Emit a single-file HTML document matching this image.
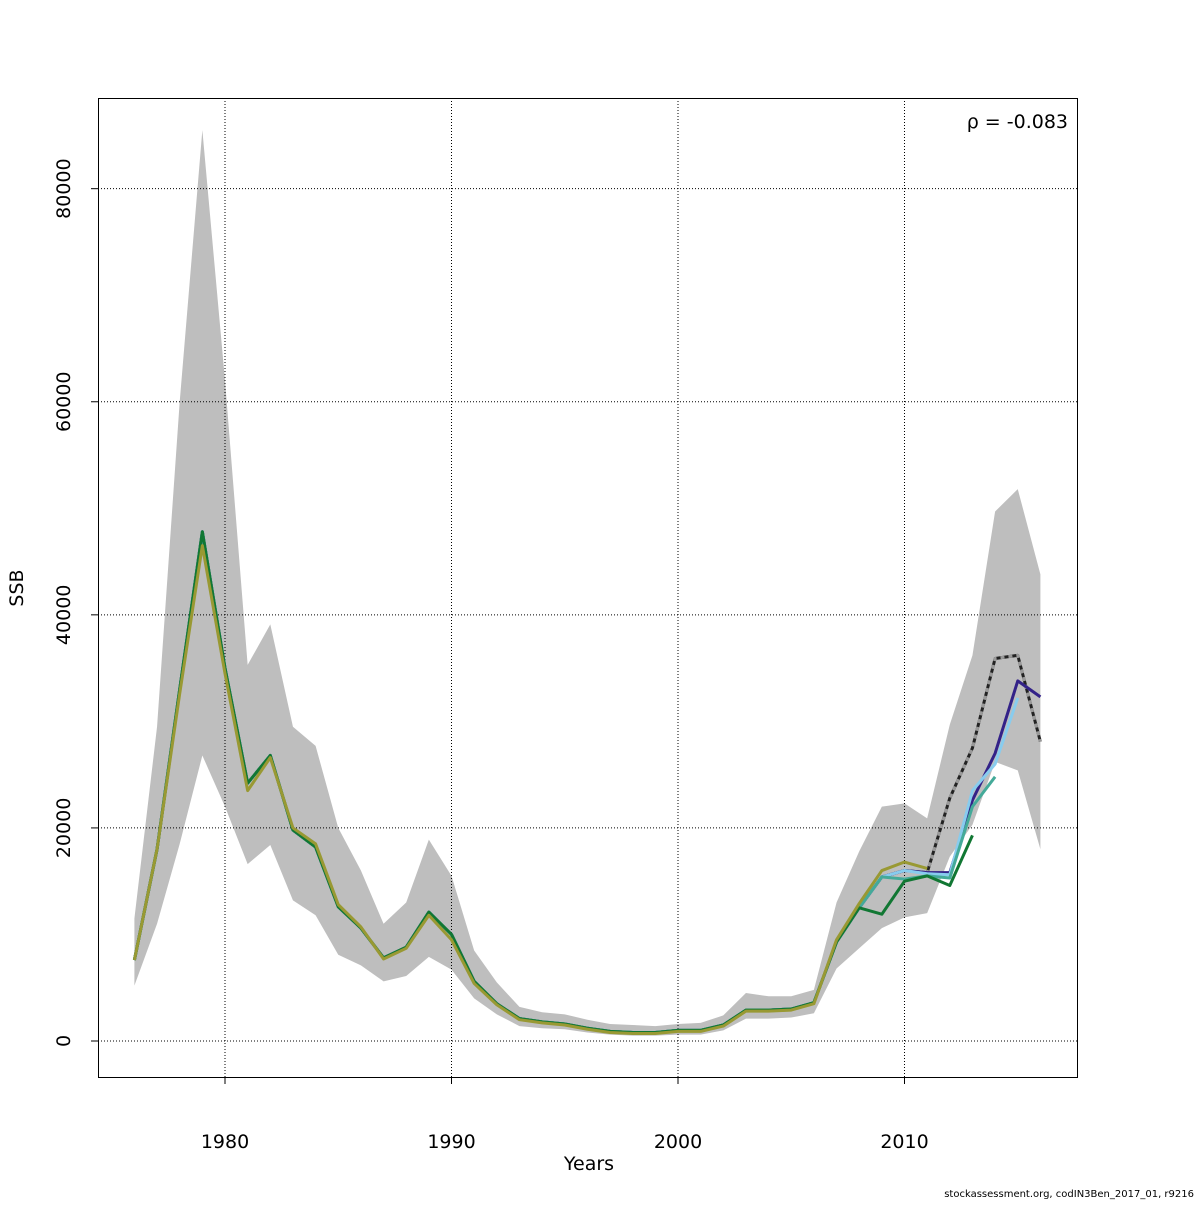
<!DOCTYPE html>
<html><head><meta charset="utf-8"><style>
body{margin:0;background:#fff}
svg text{font-family:"DejaVu Sans","Liberation Sans",sans-serif}
</style></head><body>
<svg id="chart" width="1200" height="1200" xmlns="http://www.w3.org/2000/svg">
<rect width="1200" height="1200" fill="#fff"/>
<g id="band"></g>
<g id="grid"></g>
<g id="lines"></g>
<rect x="98.5" y="98.5" width="979" height="979" fill="none" stroke="#000" stroke-width="1"/>
<g id="axes"></g>
<text x="1068" y="128" font-size="19" text-anchor="end">ρ = -0.083</text>
<text x="589" y="1170" font-size="19" text-anchor="middle">Years</text>
<text x="23" y="588" font-size="19" text-anchor="middle" transform="rotate(-90 23 588)">SSB</text>
<text x="1194" y="1197" font-size="10" text-anchor="end">stockassessment.org, codIN3Ben_2017_01, r9216</text>
</svg>
<script>
const years=[1976,1977,1978,1979,1980,1981,1982,1983,1984,1985,1986,1987,1988,1989,1990,1991,1992,1993,1994,1995,1996,1997,1998,1999,2000,2001,2002,2003,2004,2005,2006,2007,2008,2009,2010,2011,2012,2013,2014,2015,2016];
const ssb=[7600,18000,33000,47800,35000,24200,26800,19800,18200,12600,10600,7800,8800,12100,10000,5600,3500,2100,1800,1600,1200,900,800,800,1000,1000,1500,2900,2900,3000,3600,9300,12500,15400,16000,15800,22800,27500,35900,36200,28100];
const upper=[11500,29500,60000,85500,62000,35300,39100,29500,27700,20000,16000,11000,13000,18900,15500,8500,5500,3200,2700,2500,2000,1600,1500,1400,1600,1700,2400,4500,4200,4200,4800,13000,17800,22000,22300,20900,29700,36200,49700,51800,43800];
const lower=[5200,11000,18500,26800,22000,16600,18400,13200,11800,8100,7100,5600,6100,7900,6700,4000,2500,1400,1200,1100,800,600,500,500,600,600,1000,2100,2100,2200,2600,6800,8700,10600,11600,12000,17300,20300,26200,25400,18000];
const peel1=ssb.slice(0,36).concat([15800,22600,27000,33800,32300]);
const peel2=ssb.slice(0,35).concat([15700,15600,23500,26000,32200]);
const peel3=ssb.slice(0,34).concat([15200,15500,15300,22000,24800]);
const peel4=ssb.slice(0,33).concat([11900,15000,15500,14600,19300]);
const peel5=[7600,18000,32600,46500,34500,23500,26600,20000,18500,12800,10700,7700,8700,11800,9500,5400,3400,2000,1700,1500,1100,800,700,700,900,900,1400,2800,2800,2900,3500,9500,12900,16000,16800,16200];
const xTicks=[1980,1990,2000,2010];
const yTicks=[0,20000,40000,60000,80000];
const yTickLabels=["0","20000","40000","60000","80000"];
const X=v=>225+(v-1980)*22.65;
const Y=v=>1041-v*0.010654;
const NS="http://www.w3.org/2000/svg";
function mk(t,a,p){const e=document.createElementNS(NS,t);for(const k in a)e.setAttribute(k,a[k]);p.appendChild(e);return e;}
const band=document.getElementById('band'),grid=document.getElementById('grid'),lines=document.getElementById('lines'),axes=document.getElementById('axes');
let pts=years.map((y,i)=>X(y)+','+Y(upper[i])).concat(years.map((y,i)=>X(y)+','+Y(lower[i])).reverse());
const poly=mk('polygon',{points:pts.join(' '),fill:'#bebebe',stroke:'none'},band);


xTicks.forEach(t=>{const l=mk('line',{x1:X(t),x2:X(t),y1:98,y2:1077,stroke:'#000','stroke-width':1,'stroke-dasharray':'1,2'},grid);


const tk=mk('line',{x1:X(t),x2:X(t),y1:1077,y2:1084,stroke:'#000'},axes);


const tx=mk('text',{x:X(t),y:1148,'font-size':19,'text-anchor':'middle'},axes);tx.textContent=t;

});
yTicks.forEach((t,i)=>{const l=mk('line',{x1:98,x2:1077,y1:Y(t),y2:Y(t),stroke:'#000','stroke-width':1,'stroke-dasharray':'1,2'},grid);


const tk=mk('line',{x1:91,x2:98,y1:Y(t),y2:Y(t),stroke:'#000'},axes);


const tx=mk('text',{x:70,y:Y(t),'font-size':19,'text-anchor':'middle',transform:`rotate(-90 70 ${Y(t)})`},axes);tx.textContent=yTickLabels[i];

});
function line(arr,col,name,dash){const p=mk('polyline',{points:arr.map((v,i)=>X(years[i])+','+Y(v)).join(' '),fill:'none',stroke:col,'stroke-width':3,'stroke-linejoin':'round'},lines);
if(dash)p.setAttribute('stroke-dasharray',dash);

}
line(ssb,'#222','ssb-base-line');
line(ssb,'#999','ssb-dash-overlay','4,4');
line(peel1,'#332288','peel-2015-line');
line(peel2,'#88ccee','peel-2014-line');
line(peel3,'#44aa99','peel-2013-line');
line(peel4,'#117733','peel-2012-line');
line(peel5,'#999933','peel-2011-line');
</script>
</body></html>
